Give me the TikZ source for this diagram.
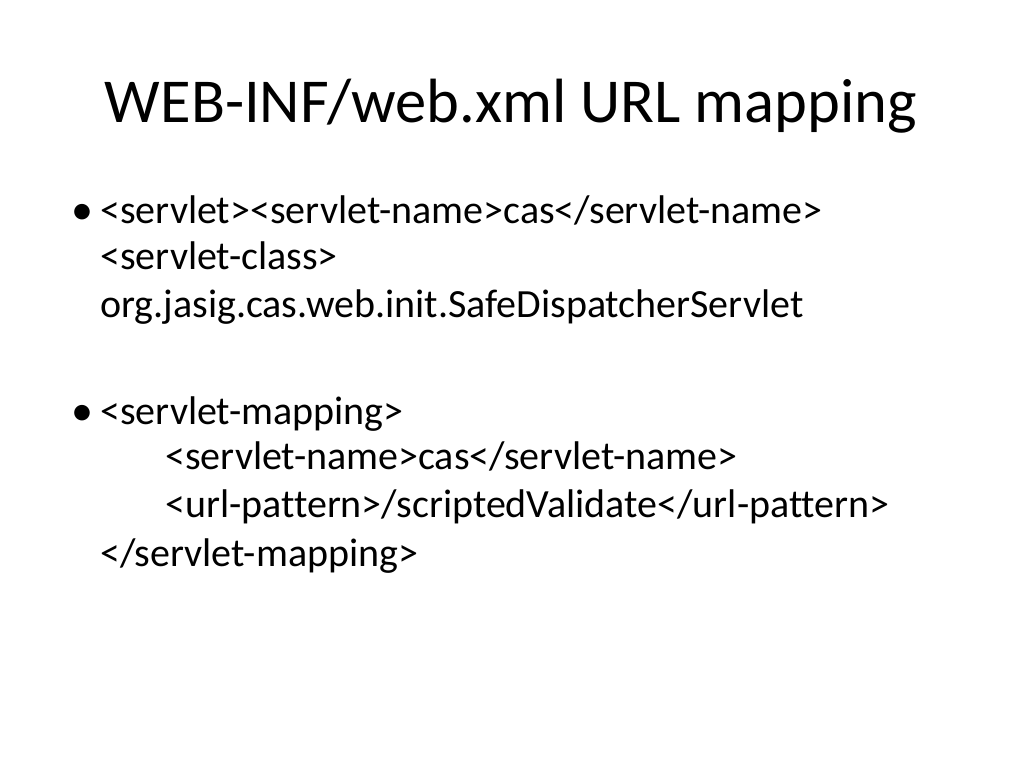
\documentclass[tikz,border=0pt]{standalone}
\usepackage{fontspec}
\setmainfont[Ligatures=NoCommon]{Carlito}
\begin{document}
\begin{tikzpicture}[x=1pt,y=-1pt,
  titletext/.style={font=\fontsize{62.5}{62.5}\selectfont, anchor=base, inner sep=0pt},
  bodytext/.style={font=\fontsize{40}{40}\selectfont, anchor=base west, inner sep=0pt},
  bullettext/.style={font=\fontsize{44}{44}\selectfont, anchor=base west, inner sep=0pt}]
\useasboundingbox[fill=white] (0,0) rectangle (1024,768);
\node[titletext] (title) at (511,122) {WEB-INF/web.xml URL mapping};
\node[bullettext] (b1) at (71,224.5) {•};
\node[bodytext] (l1) at (100,223) {<servlet><servlet-name>cas</servlet-name>};
\node[bodytext] (l2) at (100,269) {<servlet-class>};
\node[bodytext] (l3) at (100,317) {org.jasig.cas.web.init.SafeDispatcherServlet};
\node[bullettext] (b2) at (71,425.5) {•};
\node[bodytext] (m1) at (100,424) {<servlet-mapping>};
\node[bodytext] (m2) at (165,469) {<servlet-name>cas</servlet-name>};
\node[bodytext] (m3) at (165,517) {<url-pattern>/scriptedValidate</url-pattern>};
\node[bodytext] (m4) at (100,566) {</servlet-mapping>};
\end{tikzpicture}
\end{document}
